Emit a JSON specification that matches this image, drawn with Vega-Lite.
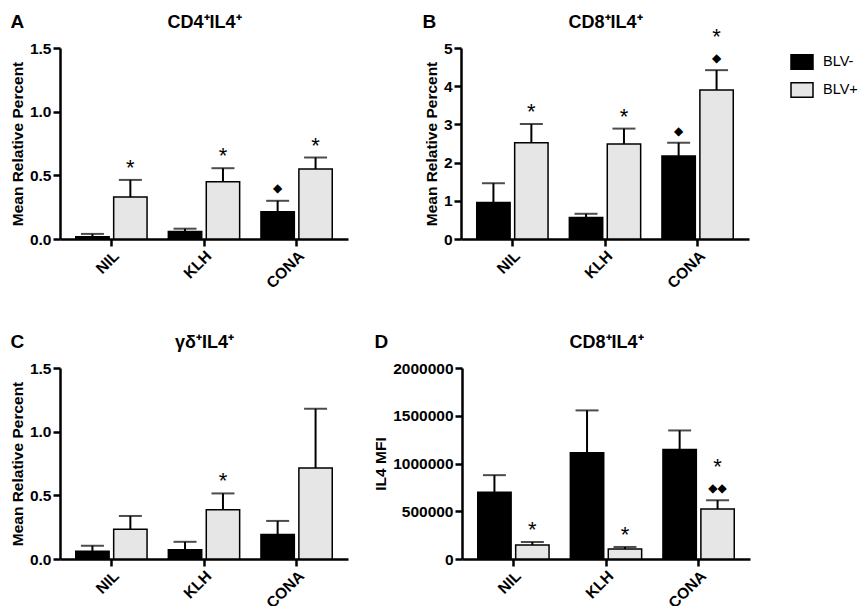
{
  "$schema": "https://vega.github.io/schema/vega-lite/v6.json",
  "padding": {"left": 10, "top": 12, "right": 1, "bottom": 0},
  "background": "white",
  "datasets": {
    "d": [
      {"panel": "A", "stim": "NIL", "group": "BLV-", "mean": 0.018, "upper": 0.04, "star": "", "dia": ""},
      {"panel": "A", "stim": "NIL", "group": "BLV+", "mean": 0.329, "upper": 0.464, "star": "*", "dia": ""},
      {"panel": "A", "stim": "KLH", "group": "BLV-", "mean": 0.058, "upper": 0.081, "star": "", "dia": ""},
      {"panel": "A", "stim": "KLH", "group": "BLV+", "mean": 0.449, "upper": 0.556, "star": "*", "dia": ""},
      {"panel": "A", "stim": "CONA", "group": "BLV-", "mean": 0.214, "upper": 0.30, "star": "", "dia": "◆"},
      {"panel": "A", "stim": "CONA", "group": "BLV+", "mean": 0.55, "upper": 0.64, "star": "*", "dia": ""},
      {"panel": "B", "stim": "NIL", "group": "BLV-", "mean": 0.957, "upper": 1.46, "star": "", "dia": ""},
      {"panel": "B", "stim": "NIL", "group": "BLV+", "mean": 2.52, "upper": 3.01, "star": "*", "dia": ""},
      {"panel": "B", "stim": "KLH", "group": "BLV-", "mean": 0.565, "upper": 0.66, "star": "", "dia": ""},
      {"panel": "B", "stim": "KLH", "group": "BLV+", "mean": 2.49, "upper": 2.89, "star": "*", "dia": ""},
      {"panel": "B", "stim": "CONA", "group": "BLV-", "mean": 2.17, "upper": 2.52, "star": "", "dia": "◆"},
      {"panel": "B", "stim": "CONA", "group": "BLV+", "mean": 3.9, "upper": 4.42, "star": "*", "dia": "◆"},
      {"panel": "C", "stim": "NIL", "group": "BLV-", "mean": 0.06, "upper": 0.104, "star": "", "dia": ""},
      {"panel": "C", "stim": "NIL", "group": "BLV+", "mean": 0.234, "upper": 0.338, "star": "", "dia": ""},
      {"panel": "C", "stim": "KLH", "group": "BLV-", "mean": 0.073, "upper": 0.135, "star": "", "dia": ""},
      {"panel": "C", "stim": "KLH", "group": "BLV+", "mean": 0.387, "upper": 0.515, "star": "*", "dia": ""},
      {"panel": "C", "stim": "CONA", "group": "BLV-", "mean": 0.192, "upper": 0.299, "star": "", "dia": ""},
      {"panel": "C", "stim": "CONA", "group": "BLV+", "mean": 0.715, "upper": 1.18, "star": "", "dia": ""},
      {"panel": "D", "stim": "NIL", "group": "BLV-", "mean": 699000, "upper": 878000, "star": "", "dia": ""},
      {"panel": "D", "stim": "NIL", "group": "BLV+", "mean": 147000, "upper": 178000, "star": "*", "dia": ""},
      {"panel": "D", "stim": "KLH", "group": "BLV-", "mean": 1112000, "upper": 1556000, "star": "", "dia": ""},
      {"panel": "D", "stim": "KLH", "group": "BLV+", "mean": 105000, "upper": 126000, "star": "*", "dia": ""},
      {"panel": "D", "stim": "CONA", "group": "BLV-", "mean": 1147000, "upper": 1346000, "star": "", "dia": ""},
      {"panel": "D", "stim": "CONA", "group": "BLV+", "mean": 524000, "upper": 615000, "star": "*", "dia": "◆◆"}
    ]
  },
  "spacing": 40,
  "vconcat": [
    {
      "spacing": 74,
      "hconcat": [
        {
          "width": 288, "height": 191,
          "data": {"name": "d"},
          "transform": [{"filter": "datum.panel == 'A'"}],
          "encoding": {"xOffset": {"field": "group", "type": "nominal", "sort": ["BLV-", "BLV+"], "scale": {"paddingInner": 0.12}}},
          "resolve": {"axis": {"x": "independent"}},
          "layer": [
            {
              "mark": {"type": "bar", "stroke": "black", "strokeWidth": 1.5},
              "encoding": {
                "x": {"field": "stim", "type": "nominal", "sort": ["NIL", "KLH", "CONA"], "scale": {"paddingInner": 0.23, "paddingOuter": 0.17}},
                "y": {"field": "mean", "type": "quantitative", "title": "Mean Relative Percent", "scale": {"domain": [0, 1.5], "nice": false}, "axis": {"values": [0, 0.5, 1, 1.5], "format": ".1f"}},
                "color": {"field": "group", "type": "nominal", "sort": ["BLV-", "BLV+"], "scale": {"domain": ["BLV-", "BLV+"], "range": ["#000000", "#e6e6e6"]},
                  "legend": {"title": null, "orient": "none", "legendX": 730, "legendY": 2}}
              }
            },
            {
              "mark": {"type": "rule", "color": "black", "strokeWidth": 2},
              "encoding": {
                "x": {"field": "stim", "type": "nominal", "sort": ["NIL", "KLH", "CONA"], "axis": {"orient": "top", "title": "CD4⁺IL4⁺", "labels": false, "ticks": false, "domain": false, "titleFontSize": 18, "titleY": -21, "titleBaseline": "alphabetic"}},
                "y": {"field": "mean", "type": "quantitative", "title": "Mean Relative Percent", "axis": {"values": [0, 0.5, 1, 1.5], "format": ".1f"}},
                "y2": {"field": "upper"}
              }
            },
            {
              "mark": {"type": "tick", "color": "black", "thickness": 2, "size": 23},
              "encoding": {
                "x": {"field": "stim", "type": "nominal", "sort": ["NIL", "KLH", "CONA"], "axis": {"orient": "top", "title": "A", "labels": false, "ticks": false, "domain": false, "titleFontSize": 19, "titleX": -50, "titleY": -21, "titleAlign": "left", "titleAnchor": "start", "titleBaseline": "alphabetic"}},
                "y": {"field": "upper", "type": "quantitative", "title": "Mean Relative Percent", "axis": {"values": [0, 0.5, 1, 1.5], "format": ".1f"}}
              }
            },
            {
              "transform": [{"filter": "datum.dia != ''"}],
              "mark": {"type": "text", "font": "DejaVu Sans", "fontSize": 12, "baseline": "middle", "dy": -13, "color": "black"},
              "encoding": {
                "x": {"field": "stim", "type": "nominal", "sort": ["NIL", "KLH", "CONA"], "axis": null},
                "y": {"field": "upper", "type": "quantitative", "title": "Mean Relative Percent", "axis": {"values": [0, 0.5, 1, 1.5], "format": ".1f"}},
                "text": {"field": "dia"}
              }
            },
            {
              "transform": [{"filter": "datum.star != ''"}],
              "mark": {"type": "text", "fontSize": 22, "baseline": "middle", "dy": -12, "color": "black"},
              "encoding": {
                "x": {"field": "stim", "type": "nominal", "sort": ["NIL", "KLH", "CONA"], "axis": null},
                "y": {"field": "upper", "type": "quantitative", "title": "Mean Relative Percent", "axis": {"values": [0, 0.5, 1, 1.5], "format": ".1f"}},
                "text": {"field": "star"}
              }
            }
          ]
        },
        {
          "width": 288, "height": 191,
          "data": {"name": "d"},
          "transform": [{"filter": "datum.panel == 'B'"}],
          "encoding": {"xOffset": {"field": "group", "type": "nominal", "sort": ["BLV-", "BLV+"], "scale": {"paddingInner": 0.12}}},
          "resolve": {"axis": {"x": "independent"}},
          "layer": [
            {
              "mark": {"type": "bar", "stroke": "black", "strokeWidth": 1.5},
              "encoding": {
                "x": {"field": "stim", "type": "nominal", "sort": ["NIL", "KLH", "CONA"], "scale": {"paddingInner": 0.23, "paddingOuter": 0.17}},
                "y": {"field": "mean", "type": "quantitative", "title": "Mean Relative Percent", "scale": {"domain": [0, 5], "nice": false}, "axis": {"values": [0, 1, 2, 3, 4, 5], "format": "d"}},
                "color": {"field": "group", "type": "nominal", "sort": ["BLV-", "BLV+"], "scale": {"domain": ["BLV-", "BLV+"], "range": ["#000000", "#e6e6e6"]}}
              }
            },
            {
              "mark": {"type": "rule", "color": "black", "strokeWidth": 2},
              "encoding": {
                "x": {"field": "stim", "type": "nominal", "sort": ["NIL", "KLH", "CONA"], "axis": {"orient": "top", "title": "CD8⁺IL4⁺", "labels": false, "ticks": false, "domain": false, "titleFontSize": 18, "titleY": -21, "titleBaseline": "alphabetic"}},
                "y": {"field": "mean", "type": "quantitative", "title": "Mean Relative Percent", "axis": {"values": [0, 1, 2, 3, 4, 5], "format": "d"}},
                "y2": {"field": "upper"}
              }
            },
            {
              "mark": {"type": "tick", "color": "black", "thickness": 2, "size": 23},
              "encoding": {
                "x": {"field": "stim", "type": "nominal", "sort": ["NIL", "KLH", "CONA"], "axis": {"orient": "top", "title": "B", "labels": false, "ticks": false, "domain": false, "titleFontSize": 19, "titleX": -39, "titleY": -21, "titleAlign": "left", "titleAnchor": "start", "titleBaseline": "alphabetic"}},
                "y": {"field": "upper", "type": "quantitative", "title": "Mean Relative Percent", "axis": {"values": [0, 1, 2, 3, 4, 5], "format": "d"}}
              }
            },
            {
              "transform": [{"filter": "datum.dia != ''"}],
              "mark": {"type": "text", "font": "DejaVu Sans", "fontSize": 12, "baseline": "middle", "dy": -12, "color": "black"},
              "encoding": {
                "x": {"field": "stim", "type": "nominal", "sort": ["NIL", "KLH", "CONA"], "axis": null},
                "y": {"field": "upper", "type": "quantitative", "title": "Mean Relative Percent", "axis": {"values": [0, 1, 2, 3, 4, 5], "format": "d"}},
                "text": {"field": "dia"}
              }
            },
            {
              "transform": [{"filter": "datum.star != '' && datum.dia == ''"}],
              "mark": {"type": "text", "fontSize": 22, "baseline": "middle", "dy": -12, "color": "black"},
              "encoding": {
                "x": {"field": "stim", "type": "nominal", "sort": ["NIL", "KLH", "CONA"], "axis": null},
                "y": {"field": "upper", "type": "quantitative", "title": "Mean Relative Percent", "axis": {"values": [0, 1, 2, 3, 4, 5], "format": "d"}},
                "text": {"field": "star"}
              }
            },
            {
              "transform": [{"filter": "datum.star != '' && datum.dia != ''"}],
              "mark": {"type": "text", "fontSize": 22, "baseline": "middle", "dy": -33, "color": "black"},
              "encoding": {
                "x": {"field": "stim", "type": "nominal", "sort": ["NIL", "KLH", "CONA"], "axis": null},
                "y": {"field": "upper", "type": "quantitative", "title": "Mean Relative Percent", "axis": {"values": [0, 1, 2, 3, 4, 5], "format": "d"}},
                "text": {"field": "star"}
              }
            }
          ]
        }
      ]
    },
    {
      "spacing": 25,
      "hconcat": [
        {
          "width": 288, "height": 191,
          "data": {"name": "d"},
          "transform": [{"filter": "datum.panel == 'C'"}],
          "encoding": {"xOffset": {"field": "group", "type": "nominal", "sort": ["BLV-", "BLV+"], "scale": {"paddingInner": 0.12}}},
          "resolve": {"axis": {"x": "independent"}},
          "layer": [
            {
              "mark": {"type": "bar", "stroke": "black", "strokeWidth": 1.5},
              "encoding": {
                "x": {"field": "stim", "type": "nominal", "sort": ["NIL", "KLH", "CONA"], "scale": {"paddingInner": 0.23, "paddingOuter": 0.17}},
                "y": {"field": "mean", "type": "quantitative", "title": "Mean Relative Percent", "scale": {"domain": [0, 1.5], "nice": false}, "axis": {"values": [0, 0.5, 1, 1.5], "format": ".1f"}},
                "color": {"field": "group", "type": "nominal", "sort": ["BLV-", "BLV+"], "scale": {"domain": ["BLV-", "BLV+"], "range": ["#000000", "#e6e6e6"]}}
              }
            },
            {
              "mark": {"type": "rule", "color": "black", "strokeWidth": 2},
              "encoding": {
                "x": {"field": "stim", "type": "nominal", "sort": ["NIL", "KLH", "CONA"], "axis": {"orient": "top", "title": "γδ⁺IL4⁺", "labels": false, "ticks": false, "domain": false, "titleFontSize": 18, "titleY": -21, "titleBaseline": "alphabetic"}},
                "y": {"field": "mean", "type": "quantitative", "title": "Mean Relative Percent", "axis": {"values": [0, 0.5, 1, 1.5], "format": ".1f"}},
                "y2": {"field": "upper"}
              }
            },
            {
              "mark": {"type": "tick", "color": "black", "thickness": 2, "size": 23},
              "encoding": {
                "x": {"field": "stim", "type": "nominal", "sort": ["NIL", "KLH", "CONA"], "axis": {"orient": "top", "title": "C", "labels": false, "ticks": false, "domain": false, "titleFontSize": 19, "titleX": -50, "titleY": -21, "titleAlign": "left", "titleAnchor": "start", "titleBaseline": "alphabetic"}},
                "y": {"field": "upper", "type": "quantitative", "title": "Mean Relative Percent", "axis": {"values": [0, 0.5, 1, 1.5], "format": ".1f"}}
              }
            },
            {
              "transform": [{"filter": "datum.star != ''"}],
              "mark": {"type": "text", "fontSize": 22, "baseline": "middle", "dy": -12, "color": "black"},
              "encoding": {
                "x": {"field": "stim", "type": "nominal", "sort": ["NIL", "KLH", "CONA"], "axis": null},
                "y": {"field": "upper", "type": "quantitative", "title": "Mean Relative Percent", "axis": {"values": [0, 0.5, 1, 1.5], "format": ".1f"}},
                "text": {"field": "star"}
              }
            }
          ]
        },
        {
          "width": 288, "height": 191,
          "data": {"name": "d"},
          "transform": [{"filter": "datum.panel == 'D'"}],
          "encoding": {"xOffset": {"field": "group", "type": "nominal", "sort": ["BLV-", "BLV+"], "scale": {"paddingInner": 0.12}}},
          "resolve": {"axis": {"x": "independent"}},
          "layer": [
            {
              "mark": {"type": "bar", "stroke": "black", "strokeWidth": 1.5},
              "encoding": {
                "x": {"field": "stim", "type": "nominal", "sort": ["NIL", "KLH", "CONA"], "scale": {"paddingInner": 0.23, "paddingOuter": 0.17}},
                "y": {"field": "mean", "type": "quantitative", "title": "IL4 MFI", "scale": {"domain": [0, 2000000], "nice": false}, "axis": {"values": [0, 500000, 1000000, 1500000, 2000000], "format": "d"}},
                "color": {"field": "group", "type": "nominal", "sort": ["BLV-", "BLV+"], "scale": {"domain": ["BLV-", "BLV+"], "range": ["#000000", "#e6e6e6"]}}
              }
            },
            {
              "mark": {"type": "rule", "color": "black", "strokeWidth": 2},
              "encoding": {
                "x": {"field": "stim", "type": "nominal", "sort": ["NIL", "KLH", "CONA"], "axis": {"orient": "top", "title": "CD8⁺IL4⁺", "labels": false, "ticks": false, "domain": false, "titleFontSize": 18, "titleY": -21, "titleBaseline": "alphabetic"}},
                "y": {"field": "mean", "type": "quantitative", "title": "IL4 MFI", "axis": {"values": [0, 500000, 1000000, 1500000, 2000000], "format": "d"}},
                "y2": {"field": "upper"}
              }
            },
            {
              "mark": {"type": "tick", "color": "black", "thickness": 2, "size": 23},
              "encoding": {
                "x": {"field": "stim", "type": "nominal", "sort": ["NIL", "KLH", "CONA"], "axis": {"orient": "top", "title": "D", "labels": false, "ticks": false, "domain": false, "titleFontSize": 19, "titleX": -88, "titleY": -21, "titleAlign": "left", "titleAnchor": "start", "titleBaseline": "alphabetic"}},
                "y": {"field": "upper", "type": "quantitative", "title": "IL4 MFI", "axis": {"values": [0, 500000, 1000000, 1500000, 2000000], "format": "d"}}
              }
            },
            {
              "transform": [{"filter": "datum.dia != ''"}],
              "mark": {"type": "text", "font": "DejaVu Sans", "fontSize": 12, "baseline": "middle", "dy": -12, "color": "black"},
              "encoding": {
                "x": {"field": "stim", "type": "nominal", "sort": ["NIL", "KLH", "CONA"], "axis": null},
                "y": {"field": "upper", "type": "quantitative", "title": "IL4 MFI", "axis": {"values": [0, 500000, 1000000, 1500000, 2000000], "format": "d"}},
                "text": {"field": "dia"}
              }
            },
            {
              "transform": [{"filter": "datum.star != '' && datum.dia == ''"}],
              "mark": {"type": "text", "fontSize": 22, "baseline": "middle", "dy": -12, "color": "black"},
              "encoding": {
                "x": {"field": "stim", "type": "nominal", "sort": ["NIL", "KLH", "CONA"], "axis": null},
                "y": {"field": "upper", "type": "quantitative", "title": "IL4 MFI", "axis": {"values": [0, 500000, 1000000, 1500000, 2000000], "format": "d"}},
                "text": {"field": "star"}
              }
            },
            {
              "transform": [{"filter": "datum.star != '' && datum.dia != ''"}],
              "mark": {"type": "text", "fontSize": 22, "baseline": "middle", "dy": -33, "color": "black"},
              "encoding": {
                "x": {"field": "stim", "type": "nominal", "sort": ["NIL", "KLH", "CONA"], "axis": null},
                "y": {"field": "upper", "type": "quantitative", "title": "IL4 MFI", "axis": {"values": [0, 500000, 1000000, 1500000, 2000000], "format": "d"}},
                "text": {"field": "star"}
              }
            }
          ]
        }
      ]
    }
  ],
  "resolve": {"scale": {"color": "shared"}, "legend": {"color": "shared"}},
  "config": {
    "font": "Liberation Sans",
    "view": {"stroke": null},
    "axis": {
      "grid": false,
      "domainColor": "black", "domainWidth": 2.5,
      "tickColor": "black", "tickWidth": 2.5, "tickSize": 7,
      "labelColor": "black", "labelFont": "Liberation Sans", "labelFontSize": 15.5, "labelFontWeight": "bold", "labelPadding": 2,
      "titleColor": "black", "titleFont": "Liberation Sans", "titleFontSize": 15.5, "titleFontWeight": "bold", "titlePadding": 4
    },
    "axisBottom": {"labelAngle": -45, "title": null},
    "legend": {
      "padding": 0,
      "symbolType": "M-1,-0.65H1V0.65H-1Z",
      "symbolSize": 484,
      "symbolStrokeColor": "black",
      "symbolStrokeWidth": 1.5,
      "symbolOpacity": 1,
      "labelFont": "Liberation Sans",
      "labelFontSize": 14.5,
      "labelColor": "black",
      "labelOffset": 9,
      "rowPadding": 5
    }
  }
}
